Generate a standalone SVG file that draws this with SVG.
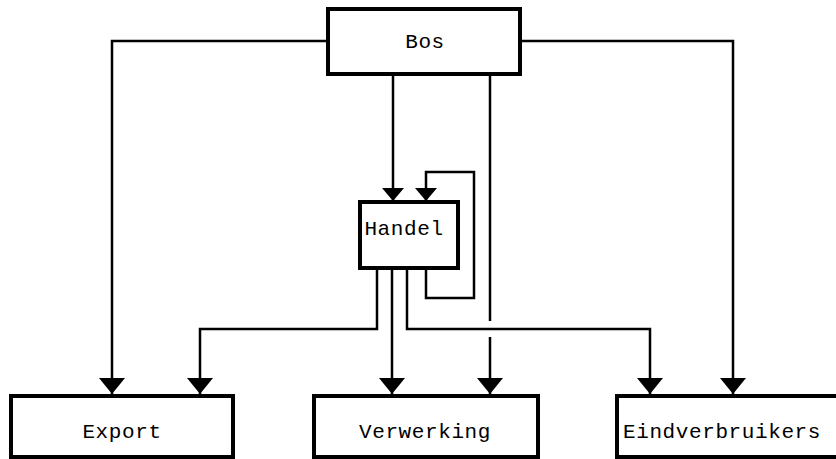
<svg xmlns="http://www.w3.org/2000/svg" width="836" height="459" viewBox="0 0 836 459">
<style>
.box{fill:#fff;stroke:#000;stroke-width:4}
.ln{fill:none;stroke:#000;stroke-width:2.5}
.lbl{font-family:"Liberation Mono","DejaVu Sans Mono",monospace;font-size:21px;letter-spacing:0.6px;text-anchor:middle;fill:#000}
</style>
<defs>
<marker id="ah" markerUnits="userSpaceOnUse" markerWidth="16" markerHeight="26" refX="16" refY="13" orient="auto" viewBox="0 0 16 26">
<path d="M0,0 L16,13 L0,26 z" fill="#000"/>
</marker>
<marker id="ahs" markerUnits="userSpaceOnUse" markerWidth="13" markerHeight="22" refX="13" refY="11" orient="auto" viewBox="0 0 13 22">
<path d="M0,0 L13,11 L0,22 z" fill="#000"/>
</marker>
</defs>
<g id="connectors">
<path class="ln" d="M328,41 H112 V394" marker-end="url(#ah)"/>
<path class="ln" d="M520,41 H733 V394" marker-end="url(#ah)"/>
<path class="ln" d="M393,74 V201" marker-end="url(#ahs)"/>
<path class="ln" d="M490,74 V321"/>
<path class="ln" d="M490,337 V394" marker-end="url(#ah)"/>
<path class="ln" d="M426,268 V298 H474 V172 H426 V201" marker-end="url(#ahs)"/>
<path class="ln" d="M377,268 V329 H200 V394" marker-end="url(#ah)"/>
<path class="ln" d="M392,268 V394" marker-end="url(#ah)"/>
<path class="ln" d="M407,268 V329 H650 V394" marker-end="url(#ah)"/>
</g>
<g id="bos">
<rect class="box" x="328" y="9" width="192" height="65"/>
<text class="lbl" x="425" y="48">Bos</text>
</g>
<g id="handel">
<rect class="box" x="360" y="202" width="98" height="66"/>
<text class="lbl" x="404" y="235">Handel</text>
</g>
<g id="export">
<rect class="box" x="11" y="396" width="222" height="61"/>
<text class="lbl" x="122" y="438">Export</text>
</g>
<g id="verwerking">
<rect class="box" x="314" y="396" width="224" height="61"/>
<text class="lbl" x="425" y="438">Verwerking</text>
</g>
<g id="eindverbruikers">
<rect class="box" x="617" y="396" width="221" height="61"/>
<text class="lbl" x="722" y="438">Eindverbruikers</text>
</g>
</svg>
